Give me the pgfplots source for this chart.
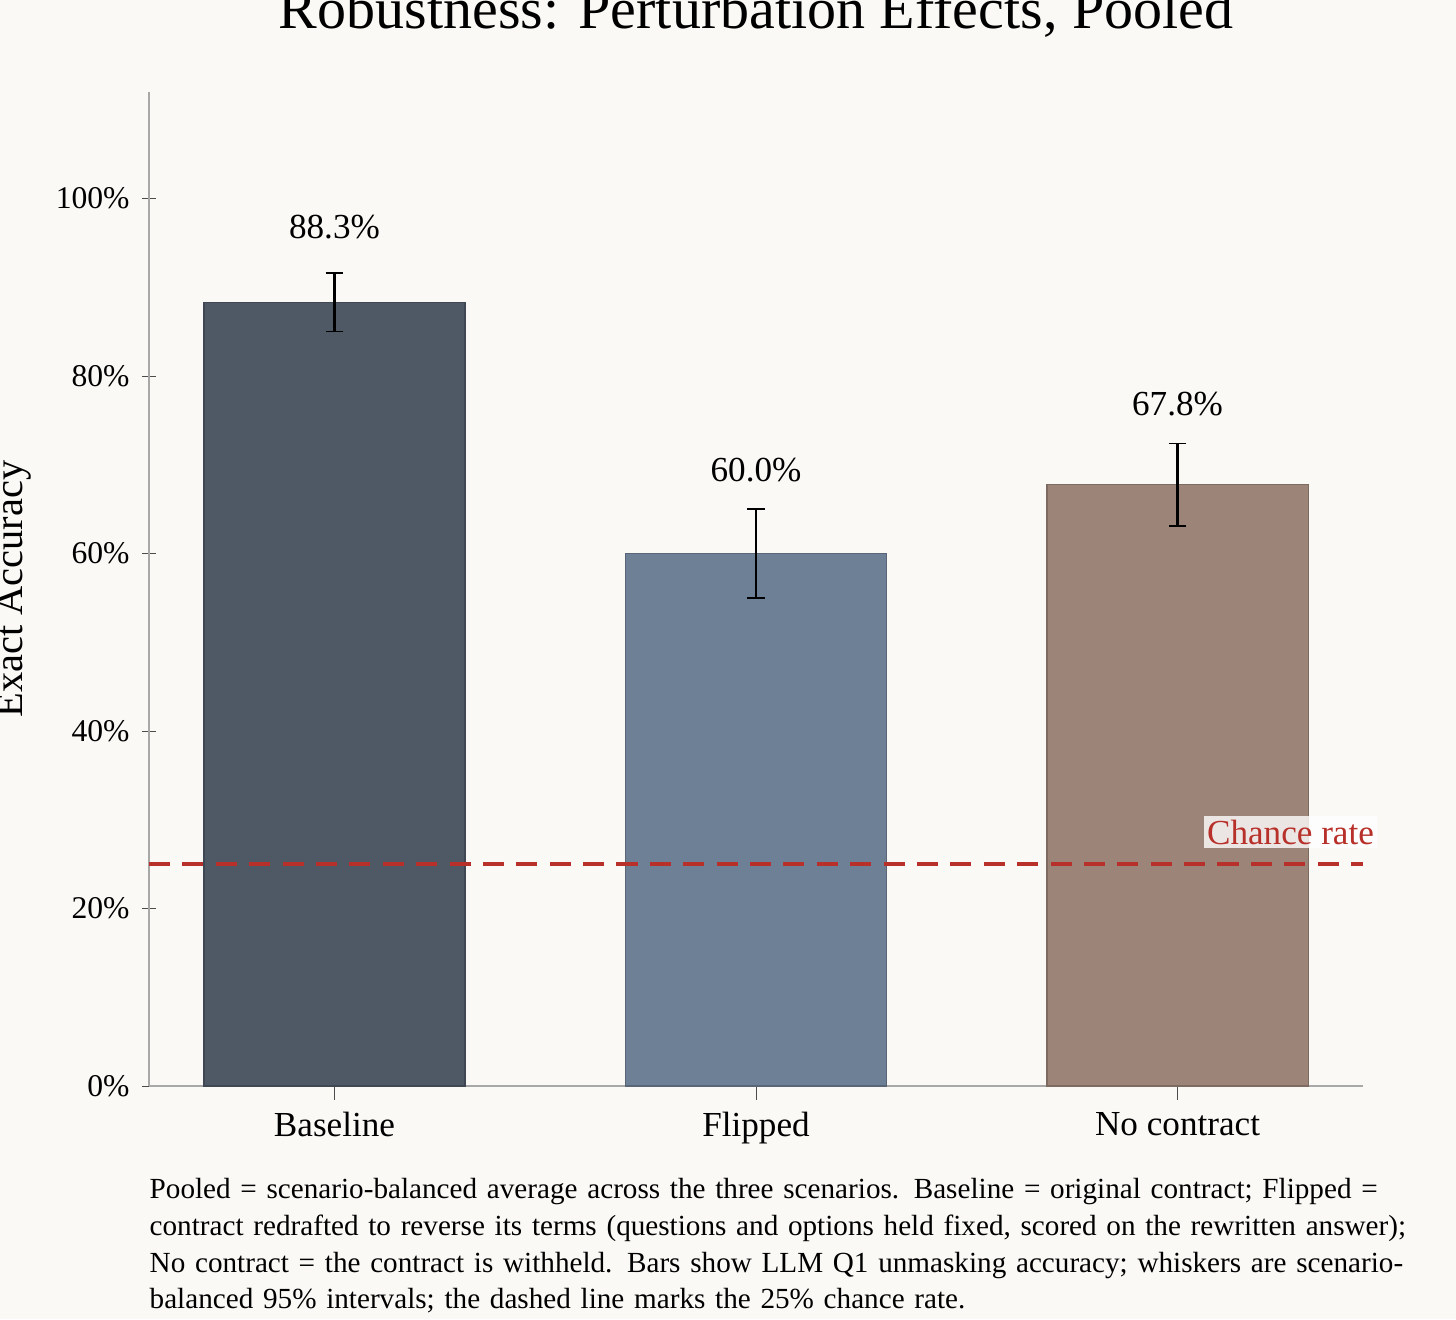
\documentclass[border=0pt]{standalone}
\usepackage{pgfplots}
\pgfplotsset{compat=1.18}
\usepackage{fontspec}
\setmainfont{Liberation Serif}
\usetikzlibrary{backgrounds}
\definecolor{bgc}{HTML}{FAF9F6}
\definecolor{c1}{HTML}{4F5966}
\definecolor{c2}{HTML}{6E8096}
\definecolor{c3}{HTML}{9C8478}
\definecolor{cr}{HTML}{B8302A}
\definecolor{ax}{HTML}{A8A8A8}
\begin{document}
\begin{tikzpicture}[background rectangle/.style={fill=bgc}, show background rectangle, inner frame sep=0pt]
\useasboundingbox (-1.49,-2.33) rectangle (13.07,10.86);
\begin{axis}[
  at={(0,0)}, anchor=south west, clip=false,
  scale only axis, width=12.14cm, height=9.94cm,
  xmin=-0.44, xmax=2.44, ymin=0, ymax=112,
  axis lines=left, axis line style={-, draw=ax},
  xtick={0,1,2}, xticklabels={Baseline,Flipped,No contract},
  ytick={0,20,40,60,80,100}, yticklabels={0\%,20\%,40\%,60\%,80\%,100\%},
  tick style={draw=black!70}, major tick length=4pt,
  tick label style={font=\fontsize{9}{11}\selectfont},
  x tick label style={font=\fontsize{10}{12}\selectfont},
  ylabel={Exact Accuracy}, ylabel style={font=\fontsize{11.5}{13}\selectfont},
  ybar, bar width=0.62, bar shift=0pt,
  title={Robustness: Perturbation Effects, Pooled},
  title style={font=\fontsize{16.5}{18}\selectfont, yshift=6pt},
]
\addplot[fill=c1, draw=c1!80!black, error bars/.cd, y dir=both, y explicit, error bar style={black, line width=0.7pt}, error mark options={black, rotate=90, mark size=2.5pt}]
 coordinates {(0,88.3) +=(0,3.3) -=(0,3.3)};
\addplot[fill=c2, draw=c2!80!black, error bars/.cd, y dir=both, y explicit, error bar style={black, line width=0.7pt}, error mark options={black, rotate=90, mark size=2.5pt}]
 coordinates {(1,60.0) +=(0,5.0) -=(0,5.0)};
\addplot[fill=c3, draw=c3!80!black, error bars/.cd, y dir=both, y explicit, error bar style={black, line width=0.7pt}, error mark options={black, rotate=90, mark size=2.5pt}]
 coordinates {(2,67.8) +=(0,4.6) -=(0,4.7)};
\addplot[sharp plot, cr, line width=1.2pt, dash pattern=on 6pt off 3.5pt] coordinates {(-0.44,25) (2.44,25)};
\node[font=\fontsize{10}{12}\selectfont] at (axis cs:0,96.8) {88.3\%};
\node[font=\fontsize{10}{12}\selectfont] at (axis cs:1,69.4) {60.0\%};
\node[font=\fontsize{10}{12}\selectfont] at (axis cs:2,76.8) {67.8\%};
\node[font=\fontsize{10}{12}\selectfont, text=cr, fill=white, fill opacity=0.8, text opacity=1, anchor=west, inner sep=1pt] at (axis cs:2.06,28.6) {Chance rate};
\end{axis}
\node[anchor=north west, text width=13.0cm, align=left, inner sep=0pt, font=\fontsize{8.3}{10.4}\selectfont] at (0,-0.92) {\hyphenpenalty=10000 Pooled = scenario-balanced average across the three scenarios. Baseline = original contract; Flipped = contract redrafted to reverse its terms (questions and options held fixed, scored on the rewritten answer); No contract = the contract is withheld. Bars show LLM Q1 unmasking accuracy; whiskers are scenario-balanced 95\% intervals; the dashed line marks the 25\% chance rate.};
\end{tikzpicture}
\end{document}
